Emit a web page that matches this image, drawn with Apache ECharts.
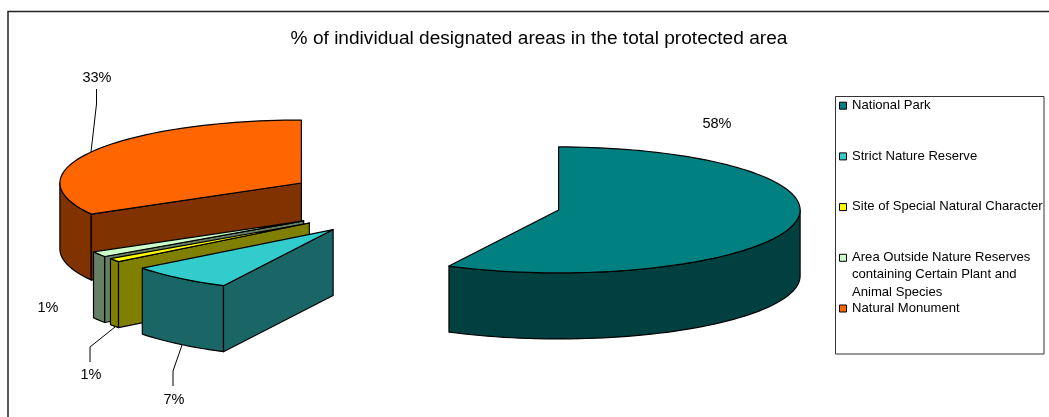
<!DOCTYPE html>
<html>
<head>
<meta charset="utf-8">
<style>html,body{margin:0;padding:0;background:#fff}#c{width:1049px;height:417px}</style>
<script src="https://cdn.jsdelivr.net/npm/echarts@6/dist/echarts.min.js"></script>
</head>
<body>
<div id="c"></div>
<script>
const categories = ['National Park', 'Strict Nature Reserve', 'Site of Special Natural Character', 'Area Outside Nature Reserves\ncontaining Certain Plant and\nAnimal Species', 'Natural Monument'];
const values = [57.5, 7.0, 0.9, 1.4, 33.2];
const titleText = '% of individual designated areas in the total protected area';

const topColors = ['#008080', '#33CCCC', '#FFFF00', '#CCFFCC', '#FF6600'];
const wallColors = ['#004040', '#1A6666', '#808000', '#668066', '#803300'];
const pie = { cx: 422.4, cy: 201.4, rx: 241.5, ry: 63, depth: 66, explode: 0.58 };
const drawOrder = [4, 3, 2, 1, 0];
const labelPos = [[717, 124], [174, 400], [91, 375], [48, 308], [97, 78]];
const leaders = [null, [[182, 345], [173, 371], [173, 386]], [[115, 327], [90, 347], [90, 362]], null, [[96.5, 89], [96.5, 104], [91, 152]]];
const legendBox = { x: 835.5, y: 96.5, w: 208.5, h: 257.5, step: 50.7 };

const total = values.reduce((a, b) => a + b, 0);
const spans = [];
let acc = 0;
values.forEach(v => { const s = acc / total * 360; acc += v; spans.push([s, acc / total * 360]); });
const rad = d => d * Math.PI / 180;

function slice(idx) {
  const [s, e] = spans[idx], m = (s + e) / 2;
  const ox = pie.cx + pie.explode * pie.rx * Math.sin(rad(m));
  const oy = pie.cy - pie.explode * pie.ry * Math.cos(rad(m));
  const at = (a, dz) => [ox + pie.rx * Math.sin(rad(a)), oy - pie.ry * Math.cos(rad(a)) + dz];
  const arc = (a0, a1, dz) => { const n = Math.max(2, Math.ceil((a1 - a0) / 2)), p = []; for (let i = 0; i <= n; i++) p.push(at(a0 + (a1 - a0) * i / n, dz)); return p; };
  const kids = [];
  const poly = (points, fill) => kids.push({ type: 'polygon', shape: { points }, style: { fill, stroke: '#000', lineWidth: 1.2, lineJoin: 'round' } });
  if (Math.sin(rad(e)) > 0.001) poly([[ox, oy], at(e, 0), at(e, pie.depth), [ox, oy + pie.depth]], wallColors[idx]);
  const a0 = Math.max(s, 90), a1 = Math.min(e, 270);
  if (a1 > a0) poly(arc(a0, a1, 0).concat(arc(a0, a1, pie.depth).reverse()), wallColors[idx]);
  if (Math.sin(rad(s)) < -0.001) poly([[ox, oy], at(s, 0), at(s, pie.depth), [ox, oy + pie.depth]], wallColors[idx]);
  poly([[ox, oy]].concat(arc(s, e, 0)), topColors[idx]);
  return { type: 'group', children: kids };
}

const graphic = [
  { type: 'polyline', shape: { points: [[8, 417], [8, 11.5], [1049, 11.5]] }, style: { stroke: '#222', lineWidth: 1.5, fill: 'none' } },
  { type: 'rect', shape: { x: legendBox.x, y: legendBox.y, width: legendBox.w, height: legendBox.h }, style: { fill: '#fff', stroke: '#333', lineWidth: 1 } }
];
categories.forEach((name, i) => {
  const y = legendBox.y + 9.2 + i * legendBox.step;
  graphic.push({ type: 'rect', shape: { x: 839.5, y: y - 3.5, width: 7, height: 7 }, style: { fill: topColors[i], stroke: '#000', lineWidth: 1 } });
  graphic.push({ type: 'text', x: 852, y: y - 9, style: { text: name, font: '13.1px "Liberation Sans"', fill: '#000', lineHeight: 17.3 } });
});
values.forEach((v, i) => {
  graphic.push({ type: 'text', x: labelPos[i][0], y: labelPos[i][1], style: { text: Math.round(v) + '%', font: '14.5px "Liberation Sans"', fill: '#000', textAlign: 'center', textVerticalAlign: 'middle' } });
  if (leaders[i]) graphic.push({ type: 'polyline', shape: { points: leaders[i] }, style: { stroke: '#000', lineWidth: 1, fill: 'none' } });
});

const chart = echarts.init(document.getElementById('c'), null, { renderer: 'canvas' });
chart.setOption({
  animation: false,
  backgroundColor: '#fff',
  title: { text: titleText, left: 534, top: 24, textAlign: 'center', textStyle: { fontFamily: 'Liberation Sans', fontSize: 19.1, fontWeight: 'normal', color: '#000' } },
  series: drawOrder.map(idx => ({
    type: 'custom',
    name: categories[idx],
    coordinateSystem: 'none',
    silent: true,
    data: [[values[idx]]],
    renderItem: () => slice(idx)
  })),
  graphic
});
</script>
</body>
</html>
